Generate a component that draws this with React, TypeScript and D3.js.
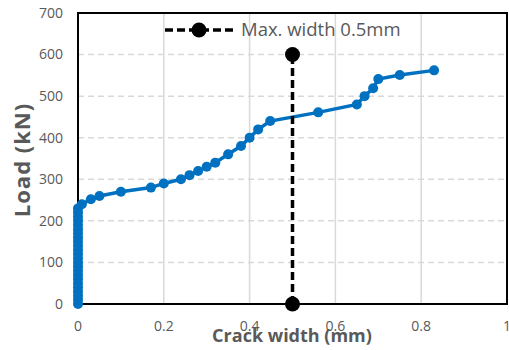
import React from "react";
import * as d3 from "d3";

// Crack width (mm) vs load (kN)
const crackWidth: number[] = [
  0, 0, 0, 0, 0, 0, 0, 0, 0, 0, 0, 0, 0, 0, 0, 0, 0, 0, 0, 0, 0, 0, 0, 0,
  0.009, 0.03, 0.05, 0.1, 0.17, 0.2, 0.24, 0.26, 0.28, 0.3, 0.32, 0.35, 0.38,
  0.4, 0.42, 0.448, 0.56, 0.65, 0.668, 0.688, 0.7, 0.75, 0.83,
];
const load: number[] = [
  0, 10, 20, 30, 40, 50, 60, 70, 80, 90, 100, 110, 120, 130, 140, 150, 160,
  170, 180, 190, 200, 210, 220, 230,
  240, 252, 260, 270, 280, 290, 300, 310, 320, 330, 340, 360, 380,
  400, 420, 440, 461, 480, 500, 519, 541, 551, 562,
];

// Limit line
const limitWidth: number[] = [0.5, 0.5];
const limitLoad: number[] = [0, 600];
const limitLabel = "Max. width 0.5mm";

const xTicks: number[] = [0, 0.2, 0.4, 0.6, 0.8, 1];
const yTicks: number[] = [0, 100, 200, 300, 400, 500, 600, 700];

const W = 509;
const H = 350;
const M = { left: 78, right: 2, top: 13, bottom: 46 };
const FONT = "'Open Sans', 'Noto Sans', sans-serif";
const GREY = "#595959";
const BLUE = "#0070c0";

export default function App() {
  const x = d3.scaleLinear().domain([0, 1]).range([M.left, W - M.right]);
  const y = d3.scaleLinear().domain([0, 700]).range([H - M.bottom, M.top]);

  const pts = crackWidth.map((w, i) => [w, load[i]] as [number, number]);
  const lim = limitWidth.map((w, i) => [w, limitLoad[i]] as [number, number]);
  const line = d3
    .line<[number, number]>()
    .x((d) => x(d[0]))
    .y((d) => y(d[1]));

  return (
    <svg
      width={W}
      height={H}
      style={{ position: "absolute", left: 0, top: 0, background: "#fff" }}
      fontFamily={FONT}
    >
      {/* vertical gridlines */}
      {xTicks.slice(1, -1).map((t) => (
        <line key={"vx" + t} x1={x(t)} x2={x(t)} y1={y(0)} y2={y(700)} stroke="#d9d9d9" strokeWidth={1.5} />
      ))}
      {/* horizontal gridlines */}
      {yTicks.slice(1, -1).map((t) => (
        <line key={"hy" + t} x1={x(0)} x2={x(1)} y1={y(t)} y2={y(t)} stroke="#d9d9d9" strokeWidth={1.5} strokeDasharray="6,4" />
      ))}
      {/* plot frame */}
      <rect x={x(0)} y={y(700)} width={x(1) - x(0)} height={y(0) - y(700)} fill="none" stroke="#000" strokeWidth={2} />

      {/* tick labels */}
      {yTicks.map((t) => (
        <text key={"ty" + t} x={63} y={y(t)} dy="0.35em" textAnchor="end" fontSize={14} fill={GREY}>
          {t}
        </text>
      ))}
      {xTicks.map((t) => (
        <text key={"tx" + t} x={x(t)} y={326} dy="0.35em" textAnchor="middle" fontSize={14} fill={GREY}>
          {t}
        </text>
      ))}

      {/* test curve */}
      <path d={line(pts) || ""} fill="none" stroke={BLUE} strokeWidth={3.5} />
      {pts.map((d, i) => (
        <circle key={"p" + i} cx={x(d[0])} cy={y(d[1])} r={5} fill={BLUE} />
      ))}

      {/* limit line */}
      <path d={line(lim) || ""} fill="none" stroke="#000" strokeWidth={3.5} strokeDasharray="8,4" />
      {lim.map((d, i) => (
        <circle key={"l" + i} cx={x(d[0])} cy={y(d[1])} r={7.5} fill="#000" />
      ))}

      {/* legend */}
      <line x1={165} x2={234} y1={30} y2={30} stroke="#000" strokeWidth={3.5} strokeDasharray="8,4" />
      <circle cx={199} cy={30} r={7.5} fill="#000" />
      <text x={241} y={30} dy="0.35em" fontSize={18.5} fill={GREY}>
        {limitLabel}
      </text>

      {/* axis titles */}
      <text x={292} y={336} dy="0.35em" textAnchor="middle" fontSize={18} fontWeight="bold" fill={GREY}>
        Crack width (mm)
      </text>
      <text
        transform={`translate(22,160) rotate(-90)`}
        dy="0.35em"
        textAnchor="middle"
        fontSize={22}
        fontWeight="bold"
        letterSpacing={1}
        fill={GREY}
      >
        Load (kN)
      </text>
    </svg>
  );
}
